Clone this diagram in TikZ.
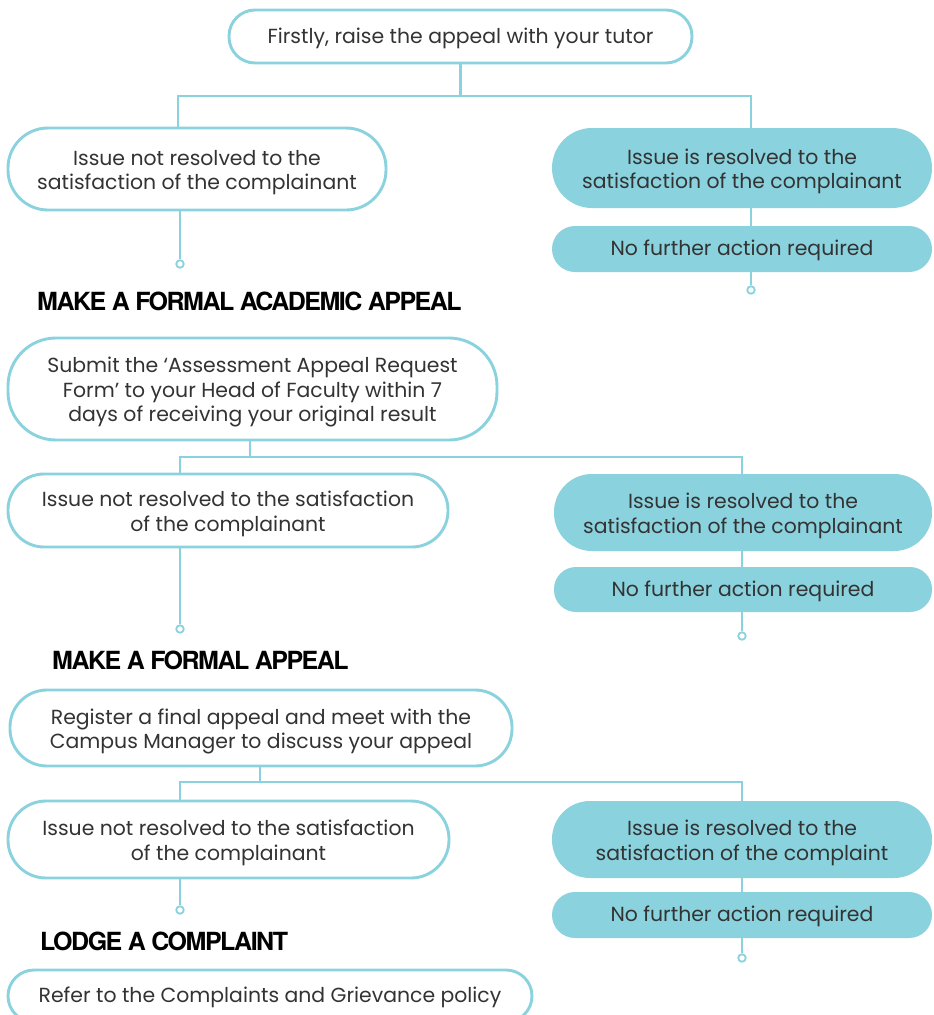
\documentclass[tikz,border=0pt]{standalone}
\usepackage{fontspec}
\setmainfont{Poppins}
\newfontfamily\headfont[LetterSpace=-6]{TeX Gyre Heros}
\definecolor{teal}{HTML}{8AD3DE}
\definecolor{txt}{HTML}{333333}
\newcommand\lift{\rule{0pt}{22pt}}
\newcommand\liftone{\rule{0pt}{18.5pt}}
\begin{document}
\begin{tikzpicture}[x=1pt,y=-1pt,
  boxtext/.style={text=txt, font=\fontsize{20.4}{24.5}\selectfont, align=center, inner sep=0pt},
  box/.style={boxtext, draw=teal, line width=2.9pt, fill=white, rounded corners=#1},
  filledbox/.style={boxtext, fill=teal, draw=none, rounded corners=#1},
  link/.style={draw=teal, line width=2.7pt},
  endpt/.style={circle, draw=teal, line width=1.8pt, fill=white, minimum size=7.5pt, inner sep=0pt},
  head/.style={font=\headfont\bfseries\fontsize{25}{25}\selectfont, anchor=west, inner sep=0pt, text=black}]
\useasboundingbox (0,0) rectangle (934,1015);
\fill[white] (0,0) rectangle (934,1015);

% Stage 1
\node[box=26pt, minimum width=463pt, minimum height=53pt] (top) at (460.5,36.5) {\liftone Firstly, raise the appeal with your tutor};
\node[box=40pt, minimum width=378pt, minimum height=82pt] (L1) at (197,169) {\lift Issue not resolved to the\\satisfaction of the complainant};
\node[filledbox=40pt, minimum width=380pt, minimum height=80pt] (R1) at (742,168) {\lift Issue is resolved to the\\satisfaction of the complainant};
\node[filledbox=23pt, minimum width=380pt, minimum height=46pt] (R1b) at (742,249) {\liftone No further action required};
\coordinate (j1L) at (178,96);
\coordinate (j1R) at (751,96);
\node[endpt] (e1L) at (180,264) {};
\node[endpt] (e1R) at (751,290) {};

\node[head] (H1) at (37,301) {MAKE A FORMAL ACADEMIC APPEAL};

% Stage 2
\node[box=48pt, minimum width=489pt, minimum height=102pt] (S) at (252.5,389) {\lift Submit the ‘Assessment Appeal Request\\Form’ to your Head of Faculty within 7\\days of receiving your original result};
\node[box=36pt, minimum width=440pt, minimum height=73pt] (L2) at (228,510.5) {\lift Issue not resolved to the satisfaction\\of the complainant};
\node[filledbox=38pt, minimum width=378pt, minimum height=77pt] (R2) at (743,512.5) {\lift Issue is resolved to the\\satisfaction of the complainant};
\node[filledbox=22pt, minimum width=378pt, minimum height=45pt] (R2b) at (743,589.5) {\liftone No further action required};
\coordinate (j2L) at (180,457);
\coordinate (j2R) at (742,457);
\node[endpt] (e2L) at (180,629) {};
\node[endpt] (e2R) at (742,636) {};

\node[head] (H2) at (52,660) {MAKE A FORMAL APPEAL};

% Stage 3
\node[box=37pt, minimum width=502pt, minimum height=76pt] (Reg) at (261,728) {\lift Register a final appeal and meet with the\\Campus Manager to discuss your appeal};
\node[box=38pt, minimum width=441pt, minimum height=77pt] (L3) at (228.5,839.5) {\lift Issue not resolved to the satisfaction\\of the complainant};
\node[filledbox=38pt, minimum width=380pt, minimum height=77pt] (R3) at (742,839.5) {\lift Issue is resolved to the\\satisfaction of the complaint};
\node[filledbox=23pt, minimum width=380pt, minimum height=46pt] (R3b) at (742,915) {\liftone No further action required};
\coordinate (j3L) at (180,782);
\coordinate (j3R) at (742,782);
\node[endpt] (e3L) at (180,910) {};
\node[endpt] (e3R) at (742,958) {};

\node[head] (H3) at (40,941) {LODGE A COMPLAINT};

\node[box=26pt, minimum width=524pt, minimum height=52pt] (Ref) at (270,996) {\liftone Refer to the Complaints and Grievance policy};

% connectors
\draw[link] (top.south) -- (top.south |- j1L);
\draw[link] (L1.north -| j1L) -- (j1L) -- (j1R) -- (R1.north -| j1R);
\draw[link] (L1.south -| e1L) -- (e1L.north);
\draw[link] (R1.south -| j1R) -- (R1b.north -| j1R);
\draw[link] (R1b.south -| e1R) -- (e1R.north);

\draw[link] (S.south -| 250,0) -- (j2L -| 250,0);
\draw[link] (L2.north -| j2L) -- (j2L) -- (j2R) -- (R2.north -| j2R);
\draw[link] (L2.south -| e2L) -- (e2L.north);
\draw[link] (R2.south -| j2R) -- (R2b.north -| j2R);
\draw[link] (R2b.south -| e2R) -- (e2R.north);

\draw[link] (Reg.south -| 260,0) -- (j3L -| 260,0);
\draw[link] (L3.north -| j3L) -- (j3L) -- (j3R) -- (R3.north -| j3R);
\draw[link] (L3.south -| e3L) -- (e3L.north);
\draw[link] (R3.south -| j3R) -- (R3b.north -| j3R);
\draw[link] (R3b.south -| e3R) -- (e3R.north);
\end{tikzpicture}
\end{document}
